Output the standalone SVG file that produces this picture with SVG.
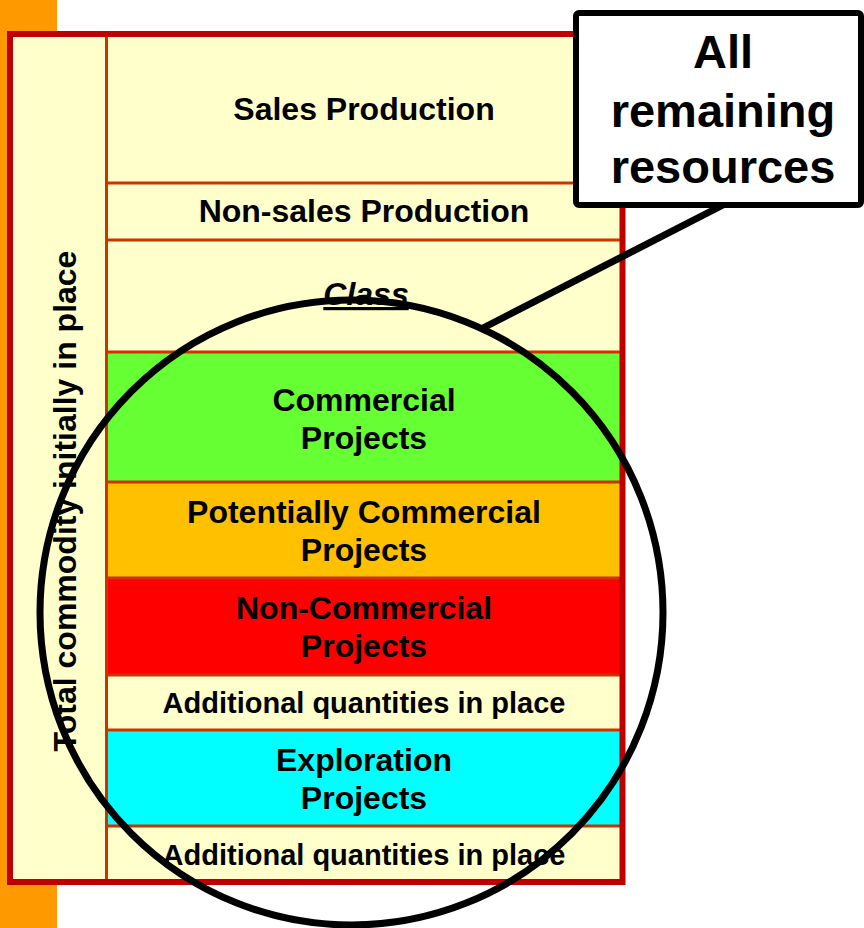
<svg xmlns="http://www.w3.org/2000/svg" width="864" height="928" viewBox="0 0 864 928">
<style>
.t{font-family:"Liberation Sans",Arial,sans-serif;font-weight:bold;font-size:32px;fill:#000;text-anchor:middle}
.s{font-size:29px}
.c{font-size:47px}
.div{stroke:#CC3300;stroke-width:3;fill:none}
</style>
<rect x="0" y="0" width="57" height="928" fill="#FF9900"/>
<g id="table">
<rect x="10" y="34" width="612.5" height="848" fill="#FFFFCC"/>
<rect x="108" y="352" width="512" height="130" fill="#66FF33"/>
<rect x="108" y="482" width="512" height="96" fill="#FFC000"/>
<rect x="108" y="578" width="512" height="97" fill="#FF0000"/>
<rect x="108" y="730" width="512" height="96" fill="#00FFFF"/>
<line class="div" x1="106.5" y1="37" x2="106.5" y2="879"/>
<line class="div" x1="108" y1="183" x2="620" y2="183"/>
<line class="div" x1="108" y1="240" x2="620" y2="240"/>
<line class="div" x1="108" y1="352" x2="620" y2="352"/>
<line class="div" x1="108" y1="482" x2="620" y2="482"/>
<line class="div" x1="108" y1="578" x2="620" y2="578"/>
<line class="div" x1="108" y1="675" x2="620" y2="675"/>
<line class="div" x1="108" y1="730" x2="620" y2="730"/>
<line class="div" x1="108" y1="826" x2="620" y2="826"/>
<rect x="10" y="34" width="612.5" height="848" fill="none" stroke="#C00000" stroke-width="6"/>
</g>
<g id="total"><text class="t" transform="translate(76,501) rotate(-90)">Total commodity initially in place</text></g>
<g id="sales"><text class="t" x="364" y="120">Sales Production</text></g>
<g id="nonsales"><text class="t" x="364" y="222">Non-sales Production</text></g>
<g id="class"><text class="t" x="366" y="305" font-style="italic" text-decoration="underline">Class</text></g>
<g id="commercial"><text class="t" x="364" y="411">Commercial</text><text class="t" x="364" y="449">Projects</text></g>
<g id="potential"><text class="t" x="364" y="523">Potentially Commercial</text><text class="t" x="364" y="561">Projects</text></g>
<g id="noncommercial"><text class="t" x="364" y="619">Non-Commercial</text><text class="t" x="364" y="657">Projects</text></g>
<g id="additional1"><text class="t s" x="364" y="713">Additional quantities in place</text></g>
<g id="exploration"><text class="t" x="364" y="771">Exploration</text><text class="t" x="364" y="809">Projects</text></g>
<g id="additional2"><text class="t s" x="364" y="865">Additional quantities in place</text></g>
<g id="connectors">
<ellipse cx="351.5" cy="612.5" rx="311.5" ry="312.5" fill="none" stroke="#000" stroke-width="7"/>
<line x1="723" y1="205" x2="483" y2="328" stroke="#000" stroke-width="7"/>
</g>
<g id="callout">
<rect x="576" y="13" width="285" height="192" rx="3" fill="#fff" stroke="#000" stroke-width="6"/>
<text class="t c" x="723" y="68">All</text>
<text class="t c" x="723" y="127">remaining</text>
<text class="t c" x="723" y="183">resources</text>
</g>
</svg>
